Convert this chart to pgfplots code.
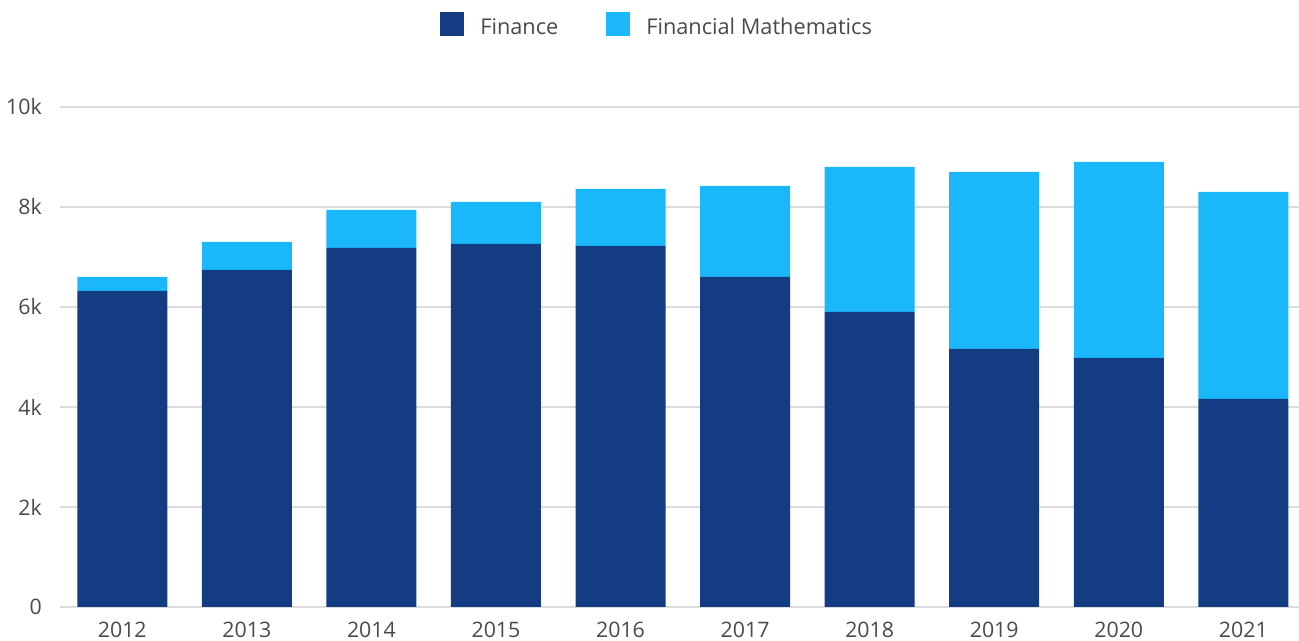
\documentclass[border=0pt]{standalone}
\usepackage{pgfplots}
\pgfplotsset{compat=1.18}
\usepackage{fontspec}
\setmainfont{Open Sans}

\definecolor{finance}{HTML}{133C82}
\definecolor{finmath}{HTML}{1AB7FB}
\definecolor{txt}{HTML}{4A4A4A}
\definecolor{gridc}{HTML}{DCDCDC}

% 1px of the reference = 0.75pt
\pgfplotsset{
  sqlegend/.style={legend image code/.code={\fill[##1] (0pt,-6.65pt) rectangle (18pt,11.35pt);}},
}

\begin{document}
\begin{tikzpicture}
\useasboundingbox (0,0) rectangle (974.25pt,480.75pt);
\begin{axis}[
  at={(45pt,25.5pt)}, anchor=south west,
  scale only axis,
  width=934.2pt, height=375pt,
  xmin=-0.5, xmax=9.5,
  ymin=0, ymax=10000,
  ybar stacked, bar width=67.5pt,
  xtick={0,...,9},
  xticklabels={2012,2013,2014,2015,2016,2017,2018,2019,2020,2021},
  ytick={0,2000,4000,6000,8000,10000},
  yticklabels={0,2k,4k,6k,8k,10k},
  scaled y ticks=false,
  ymajorgrids,
  major grid style={gridc, line width=0.9pt},
  axis x line=bottom, axis y line=left,
  y axis line style={draw=none},
  x axis line style={gridc, line width=0.9pt, -},
  major tick length=0pt,
  tick label style={txt, font=\fontsize{16pt}{19pt}\selectfont},
  yticklabel style={anchor=east, inner sep=0pt, xshift=-13.5pt},
  xticklabel style={anchor=north, inner sep=0pt, yshift=-11pt},
  /pgf/number format/assume math mode=true,
  legend columns=2,
  legend style={at={(0.3051,1.165)}, anchor=west, draw=none, fill=none,
    inner sep=0pt, text=txt, font=\fontsize{16.3pt}{19pt}\selectfont,
    nodes={inner sep=0pt},
    /tikz/every odd column/.append style={column sep=12pt},
    /tikz/every even column/.append style={column sep=36pt}},
]
% Finance
\addplot[fill=finance, draw=none, sqlegend] coordinates {
  (0,6320) (1,6740) (2,7180) (3,7260) (4,7220)
  (5,6600) (6,5900) (7,5160) (8,4980) (9,4160)};
% Financial Mathematics
\addplot[fill=finmath, draw=none, sqlegend] coordinates {
  (0,280) (1,560) (2,760) (3,840) (4,1140)
  (5,1820) (6,2900) (7,3540) (8,3920) (9,4140)};
\legend{Finance, Financial Mathematics}
\end{axis}
\end{tikzpicture}
\end{document}
